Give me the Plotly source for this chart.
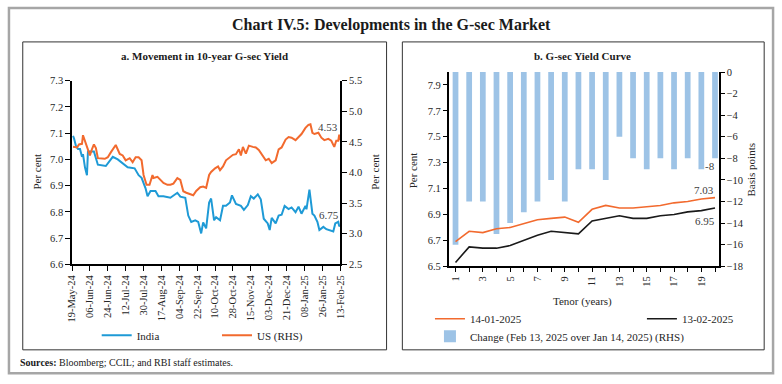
import plotly.graph_objects as go

# ---------------- Panel a: 10-year G-sec yield (India) and US 10y (RHS) ----------------
india_dates = ["2024-05-20", "2024-05-21", "2024-05-23", "2024-05-25", "2024-05-27", "2024-05-29",
               "2024-05-30", "2024-06-01", "2024-06-03", "2024-06-04", "2024-06-10", "2024-06-14",
               "2024-06-22", "2024-06-29", "2024-07-04", "2024-07-09", "2024-07-14", "2024-07-21",
               "2024-07-25", "2024-07-28", "2024-08-01", "2024-08-03", "2024-08-06", "2024-08-11",
               "2024-08-14", "2024-08-19", "2024-08-26", "2024-09-02", "2024-09-05", "2024-09-10",
               "2024-09-13", "2024-09-16", "2024-09-20", "2024-09-23", "2024-09-26", "2024-09-28",
               "2024-10-01", "2024-10-04", "2024-10-06", "2024-10-09", "2024-10-11", "2024-10-15",
               "2024-10-18", "2024-10-21", "2024-10-25", "2024-10-27", "2024-10-29", "2024-10-31",
               "2024-11-05", "2024-11-08", "2024-11-12", "2024-11-15", "2024-11-18", "2024-11-22",
               "2024-11-25", "2024-11-28", "2024-12-02", "2024-12-04", "2024-12-06", "2024-12-10",
               "2024-12-13", "2024-12-16", "2024-12-19", "2024-12-23", "2024-12-26", "2024-12-30",
               "2025-01-02", "2025-01-05", "2025-01-09", "2025-01-10", "2025-01-13", "2025-01-15",
               "2025-01-16", "2025-01-18", "2025-01-21", "2025-01-23", "2025-01-27", "2025-01-30",
               "2025-02-02", "2025-02-06", "2025-02-08", "2025-02-11", "2025-02-12", "2025-02-13"]
india_vals = [7.09, 7.08, 7.05, 7.04, 7.04, 7.01,
              7.02, 6.97, 6.94, 7.03, 7.03, 6.98,
              6.975, 7.01, 7.00, 6.986, 6.97, 6.966,
              6.94, 6.93, 6.89, 6.86, 6.88, 6.88,
              6.86, 6.86, 6.854, 6.873, 6.858, 6.854,
              6.786, 6.762, 6.768, 6.762, 6.718, 6.76,
              6.737, 6.836, 6.851, 6.768, 6.78, 6.768,
              6.823, 6.823, 6.836, 6.863, 6.848, 6.83,
              6.823, 6.808, 6.826, 6.86, 6.851, 6.867,
              6.848, 6.774, 6.756, 6.731, 6.777, 6.756,
              6.786, 6.789, 6.823, 6.811, 6.817, 6.799,
              6.82, 6.793, 6.823, 6.81, 6.885, 6.823,
              6.793, 6.786, 6.762, 6.731, 6.743, 6.734,
              6.73, 6.725, 6.756, 6.762, 6.745, 6.75]

us_dates = ["2024-05-20", "2024-05-24", "2024-05-26", "2024-05-29", "2024-05-30", "2024-06-01",
            "2024-06-04", "2024-06-06", "2024-06-08", "2024-06-10", "2024-06-12", "2024-06-14",
            "2024-06-21", "2024-06-24", "2024-06-27", "2024-07-02", "2024-07-06", "2024-07-09",
            "2024-07-12", "2024-07-16", "2024-07-19", "2024-07-22", "2024-07-25", "2024-07-28",
            "2024-07-30", "2024-08-02", "2024-08-05", "2024-08-08", "2024-08-09", "2024-08-13",
            "2024-08-16", "2024-08-19", "2024-08-23", "2024-08-26", "2024-08-29", "2024-09-02",
            "2024-09-05", "2024-09-08", "2024-09-11", "2024-09-15", "2024-09-18", "2024-09-21",
            "2024-09-25", "2024-09-28", "2024-10-01", "2024-10-04", "2024-10-06", "2024-10-10",
            "2024-10-13", "2024-10-15", "2024-10-18", "2024-10-21", "2024-10-25", "2024-10-28",
            "2024-10-31", "2024-11-03", "2024-11-05", "2024-11-07", "2024-11-10", "2024-11-13",
            "2024-11-17", "2024-11-20", "2024-11-23", "2024-11-27", "2024-11-30", "2024-12-03",
            "2024-12-06", "2024-12-10", "2024-12-13", "2024-12-16", "2024-12-20", "2024-12-23",
            "2024-12-26", "2024-12-30", "2025-01-02", "2025-01-05", "2025-01-09", "2025-01-12",
            "2025-01-14", "2025-01-16", "2025-01-18", "2025-01-22", "2025-01-25", "2025-01-28",
            "2025-02-01", "2025-02-04", "2025-02-07", "2025-02-09", "2025-02-11", "2025-02-12",
            "2025-02-13"]
us_vals = [4.42, 4.41, 4.46, 4.47, 4.61, 4.52,
           4.38, 4.28, 4.38, 4.46, 4.40, 4.235,
           4.225, 4.25, 4.33, 4.45, 4.305, 4.28,
           4.20, 4.235, 4.17, 4.25, 4.25, 4.20,
           3.96, 3.80, 3.80, 3.96, 3.91, 3.93,
           3.88, 3.83, 3.80, 3.80, 3.82, 3.91,
           3.88, 3.695, 3.67, 3.64, 3.63, 3.70,
           3.76, 3.77, 3.75, 3.96, 4.01, 4.07,
           4.10, 4.04, 4.10, 4.20, 4.25, 4.29,
           4.30, 4.38, 4.28, 4.42, 4.31, 4.44,
           4.42, 4.41, 4.37, 4.28, 4.20, 4.225,
           4.155, 4.20, 4.38, 4.41, 4.54, 4.58,
           4.57, 4.53, 4.58, 4.63, 4.73, 4.78,
           4.79, 4.65, 4.63, 4.65, 4.57, 4.53,
           4.55, 4.52, 4.42, 4.52, 4.52, 4.62,
           4.53]

# ---------------- Panel b: G-sec yield curve ----------------
tenor = list(range(1, 21))
tenor_labels = [str(t) if t % 2 == 1 else "" for t in tenor]
yield_jan14 = [6.69, 6.77, 6.76, 6.79, 6.80, 6.83, 6.86, 6.87, 6.88, 6.84,
               6.94, 6.97, 6.95, 6.95, 6.96, 6.97, 6.99, 7.00, 7.02, 7.03]
yield_feb13 = [6.53, 6.65, 6.64, 6.64, 6.66, 6.70, 6.74, 6.77, 6.76, 6.75,
               6.85, 6.87, 6.89, 6.87, 6.87, 6.89, 6.90, 6.92, 6.93, 6.95]
change_bp = [-16, -12, -12, -15, -14, -13, -12, -10, -12, -9,
             -9, -10, -6, -8, -9, -8, -9, -8, -9, -8]

# ---------------- styling ----------------
W, H = 782, 384
FONT = "Liberation Serif"
BLUE = "#1E9AD6"
ORANGE = "#F26A2E"
BLACK = "#1A1A1A"
BARC = "#9DC3E6"
TXT = "#262626"


def px(x):
    return x / W


def py(y):
    return 1 - y / H


fig = go.Figure()

fig.add_trace(go.Scatter(x=india_dates, y=india_vals, mode="lines", name="India",
                         line=dict(color=BLUE, width=2), xaxis="x", yaxis="y", legend="legend"))
fig.add_trace(go.Scatter(x=us_dates, y=us_vals, mode="lines", name="US (RHS)",
                         line=dict(color=ORANGE, width=2), xaxis="x", yaxis="y2", legend="legend2"))

fig.add_trace(go.Bar(x=tenor, y=change_bp, name="Change (Feb 13, 2025 over Jan 14, 2025) (RHS)",
                     marker=dict(color=BARC, line=dict(width=0)), width=0.42,
                     xaxis="x2", yaxis="y3", legend="legend5"))
fig.add_trace(go.Scatter(x=tenor, y=yield_jan14, mode="lines", name="14-01-2025",
                         line=dict(color=ORANGE, width=1.6), xaxis="x2", yaxis="y4", legend="legend3"))
fig.add_trace(go.Scatter(x=tenor, y=yield_feb13, mode="lines", name="13-02-2025",
                         line=dict(color=BLACK, width=1.6), xaxis="x2", yaxis="y4", legend="legend4"))

axis_common = dict(showgrid=False, zeroline=False, showline=True, linecolor="black", linewidth=1.5,
                   ticks="outside", tickcolor="black", tickwidth=1,
                   tickfont=dict(family=FONT, size=10.5, color=TXT))

fig.update_layout(
    width=W, height=H, autosize=False,
    margin=dict(l=0, r=0, t=0, b=0),
    paper_bgcolor="white", plot_bgcolor="rgba(0,0,0,0)",
    showlegend=True, barmode="overlay",
    font=dict(family=FONT, size=10.5, color=TXT),
    xaxis=dict(**axis_common, type="date", domain=[px(67), px(339)], anchor="y",
               range=["2024-05-19", "2025-02-13"], tick0="2024-05-19", dtick=18 * 86400000,
               tickformat="%d-%b-%y", tickangle=-90, ticklen=5),
    yaxis=dict(**axis_common, domain=[py(267), py(78)], anchor="x", range=[6.6, 7.3],
               dtick=0.1, tickformat=".1f", ticklen=5),
    yaxis2=dict(**axis_common, overlaying="y", side="right", anchor="x", range=[2.5, 5.5],
                dtick=0.5, tickformat=".1f", ticklen=5),
    xaxis2=dict(**axis_common, domain=[px(449), px(723)], anchor="y3", range=[0.5, 20.28],
                tickmode="array", tickvals=tenor, ticktext=tenor_labels, tickangle=-90, ticklen=4),
    yaxis3=dict(**axis_common, domain=[py(269), py(69)], anchor="x2", side="right",
                range=[-18, 0], dtick=2, ticklen=4),
    yaxis4=dict(**axis_common, overlaying="y3", side="left", anchor="x2", range=[6.5, 8.0],
                tickmode="array", tickvals=[6.5, 6.7, 6.9, 7.1, 7.3, 7.5, 7.7, 7.9],
                tickformat=".1f", ticklen=4),
)

legend_common = dict(orientation="h", bgcolor="rgba(0,0,0,0)", borderwidth=0,
                     xanchor="left", yanchor="middle",
                     font=dict(family=FONT, size=11, color=TXT))
fig.update_layout(
    legend=dict(**legend_common, x=px(92), y=py(340)),
    legend2=dict(**legend_common, x=px(214), y=py(340)),
    legend3=dict(**legend_common, x=px(430), y=py(323)),
    legend4=dict(**legend_common, x=px(645), y=py(323)),
    legend5=dict(**legend_common, x=px(430), y=py(341)),
)

# frames
shapes = [
    dict(type="rect", xref="paper", yref="paper", x0=px(3), x1=px(778), y0=py(379), y1=py(3),
         line=dict(color="#A6A6A6", width=2.5)),
    dict(type="rect", xref="paper", yref="paper", x0=px(17), x1=px(386), y0=py(355), y1=py(38),
         line=dict(color="#333333", width=1)),
    dict(type="rect", xref="paper", yref="paper", x0=px(402), x1=px(769), y0=py(355), y1=py(38),
         line=dict(color="#333333", width=1)),
]
fig.update_layout(shapes=shapes)

ann = []


def label(text, x, y, size=10.5, angle=0, xanchor="center", bold=False, color=TXT):
    if bold:
        text = "<b>" + text + "</b>"
    ann.append(dict(text=text, x=px(x), y=py(y), xref="paper", yref="paper", showarrow=False,
                    xanchor=xanchor, yanchor="middle", textangle=angle,
                    font=dict(family=FONT, size=size, color=color)))


label("Chart IV.5: Developments in the G-sec Market", 391, 21, size=16, bold=True, color="#1a1a1a")
label("a. Movement in 10-year G-sec Yield", 201, 53, size=11, bold=True, color="#1a1a1a")
label("b. G-sec Yield Curve", 585, 53, size=11, bold=True, color="#1a1a1a")
label("Per cent", 32, 172, angle=-90, size=11)
label("Per cent", 374, 172, angle=-90, size=11)
label("Per cent", 413, 170, angle=-90, size=11)
label("Basis points", 756, 170, angle=-90, size=11)
label("Tenor (years)", 585, 305, size=11)
ann.append(dict(text="<b>Sources:</b> Bloomberg; CCIL; and RBI staff estimates.", x=px(12), y=py(368),
                xref="paper", yref="paper", showarrow=False, xanchor="left", yanchor="middle",
                font=dict(family=FONT, size=10, color="#1a1a1a")))

# end-value labels
ann.append(dict(text=f"{us_vals[-1]:.2f}", x="2025-02-01", y=4.74, xref="x", yref="y2",
                showarrow=False, font=dict(family=FONT, size=11, color="#404040")))
ann.append(dict(text=f"{india_vals[-1]:.2f}", x="2025-02-02", y=6.789, xref="x", yref="y",
                showarrow=False, font=dict(family=FONT, size=11, color="#404040")))
ann.append(dict(text=f"{yield_jan14[-1]:.2f}", x=19.2, y=7.087, xref="x2", yref="y4",
                showarrow=False, font=dict(family=FONT, size=11, color="#404040")))
ann.append(dict(text=f"{yield_feb13[-1]:.2f}", x=19.27, y=6.846, xref="x2", yref="y4",
                showarrow=False, font=dict(family=FONT, size=11, color="#404040")))
ann.append(dict(text=f"{change_bp[-1]}", x=19.6, y=-8.73, xref="x2", yref="y3",
                showarrow=False, font=dict(family=FONT, size=11, color="#404040")))
fig.update_layout(annotations=ann)

fig.write_html("out.html", config={"displayModeBar": False},
               post_script="document.body.style.margin='0';document.body.style.overflow='hidden';")
